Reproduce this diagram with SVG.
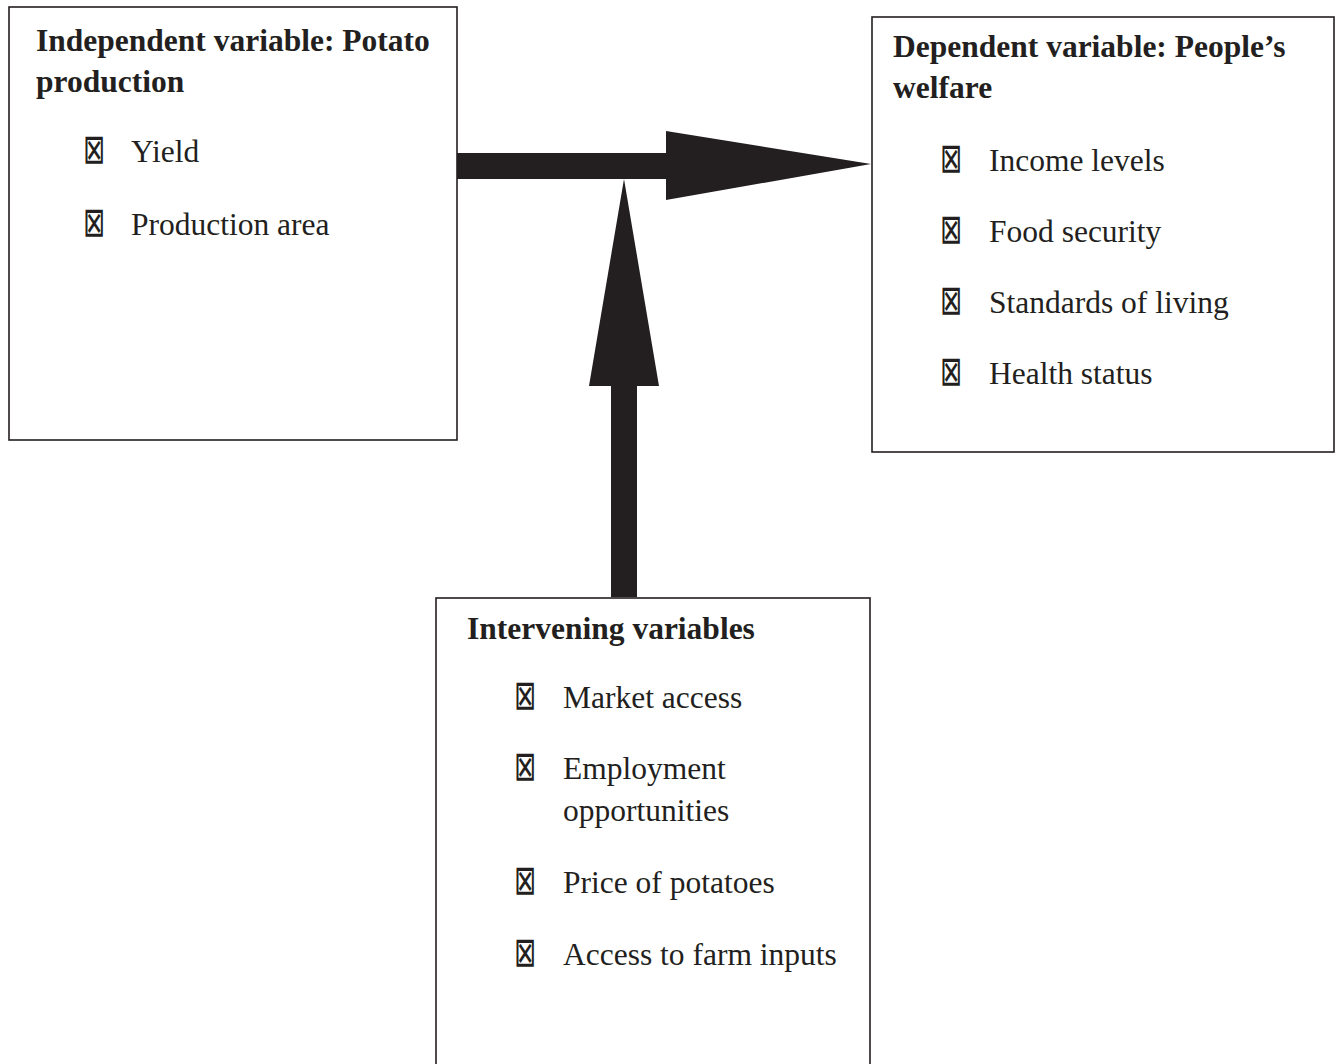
<svg xmlns="http://www.w3.org/2000/svg" width="1339" height="1064" viewBox="0 0 1339 1064">
<style>
.box{fill:#fff;stroke:#231f20;stroke-width:1.6}
.t{font-family:"Liberation Serif","Times New Roman",serif;font-size:31.5px;fill:#231f20}
.b{font-weight:bold}
.bul{font-family:"DejaVu Sans",sans-serif;font-size:41px;fill:#231f20}
.arr{fill:#231f20}
</style>
<rect width="1339" height="1064" fill="#fff"/>
<g id="connectors">
<polygon class="arr" points="457,153 666,153 666,131 871,164 666,200 666,179 457,179"/>
<polygon class="arr" points="611,597 611,386 589,386 624,179 659,386 637,386 637,597"/>
</g>
<g id="independent">
<rect class="box" x="9" y="7" width="448" height="433"/>
<text class="t b" x="36" y="51">Independent variable: Potato</text>
<text class="t b" x="36" y="92">production</text>
<text class="bul" transform="translate(83,163) scale(0.64,1)">⊠</text>
<text class="t" x="131" y="162">Yield</text>
<text class="bul" transform="translate(83,236) scale(0.64,1)">⊠</text>
<text class="t" x="131" y="235">Production area</text>
</g>
<g id="dependent">
<rect class="box" x="872" y="17" width="462" height="435"/>
<text class="t b" x="893" y="57">Dependent variable: People’s</text>
<text class="t b" x="893" y="98">welfare</text>
<text class="bul" transform="translate(940,172) scale(0.64,1)">⊠</text>
<text class="t" x="989" y="171">Income levels</text>
<text class="bul" transform="translate(940,243) scale(0.64,1)">⊠</text>
<text class="t" x="989" y="242">Food security</text>
<text class="bul" transform="translate(940,314) scale(0.64,1)">⊠</text>
<text class="t" x="989" y="313">Standards of living</text>
<text class="bul" transform="translate(940,385) scale(0.64,1)">⊠</text>
<text class="t" x="989" y="384">Health status</text>
</g>
<g id="intervening">
<rect class="box" x="436" y="598" width="434" height="480"/>
<text class="t b" x="467" y="639">Intervening variables</text>
<text class="bul" transform="translate(514,709) scale(0.64,1)">⊠</text>
<text class="t" x="563" y="708">Market access</text>
<text class="bul" transform="translate(514,780) scale(0.64,1)">⊠</text>
<text class="t" x="563" y="779">Employment</text>
<text class="t" x="563" y="821">opportunities</text>
<text class="bul" transform="translate(514,894) scale(0.64,1)">⊠</text>
<text class="t" x="563" y="893">Price of potatoes</text>
<text class="bul" transform="translate(514,966) scale(0.64,1)">⊠</text>
<text class="t" x="563" y="965">Access to farm inputs</text>
</g>
</svg>
